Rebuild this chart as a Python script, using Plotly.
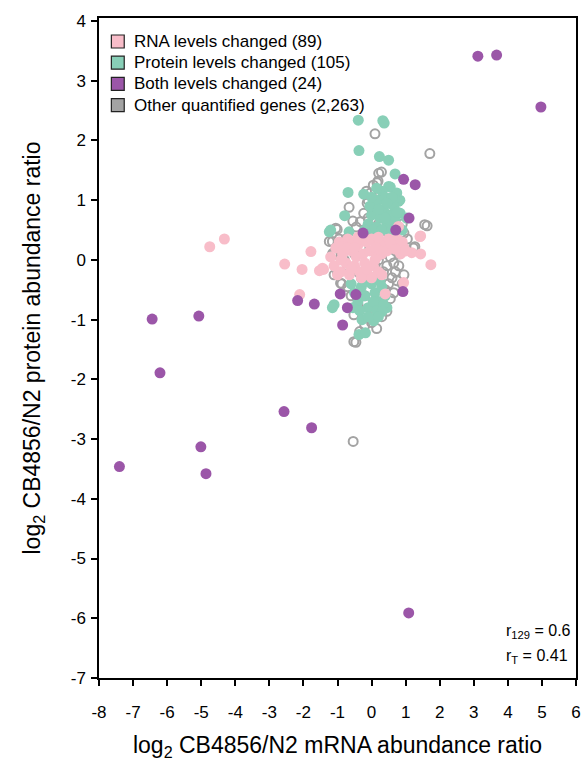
import plotly.graph_objects as go

# ---------------- data (log2 ratios) ----------------
both_x = [3.12, 3.67, 4.97, -6.44, -5.07, -6.21, -5.01, -7.40, -4.86, 1.09, -1.76, -2.57,
          0.94, 1.28, 1.10, -0.25, 0.71, -0.92, -0.46, -2.17, -1.68, -0.71, 0.92, -0.85]
both_y = [3.41, 3.43, 2.56, -0.99, -0.94, -1.89, -3.13, -3.46, -3.58, -5.91, -2.81, -2.54,
          1.35, 1.26, 0.70, 0.45, 0.50, -0.57, -0.58, -0.68, -0.74, -0.80, -0.53, -1.09]

rna_x = [-4.75, -4.32, -2.55, -2.04, -1.78, -1.53, -1.41, -2.11, 1.44, 1.18, 1.44, 1.74, 0.94, 0.40,
         -1.44, 1.42, -1.20, -1.10, -1.05, -0.95, -0.90, -0.85, -0.80, -0.75, -0.70, -0.65, -0.60,
         -0.55, -0.50, -0.45, -0.40, -0.35, -0.30, -0.25, -0.20, -0.15, -0.10, -0.05, 0.00, 0.05,
         0.10, 0.15, 0.20, 0.25, 0.30, 0.35, 0.40, 0.45, 0.50, 0.60, 0.65, 0.75, 0.80, 0.85, 0.90,
         0.95, 1.00, -0.90, -0.60, -0.30, 0.00, -0.40, 0.20, -1.00, -0.15, 0.30, -0.70, 0.10, -0.50,
         0.79, 0.55, 0.70]
rna_y = [0.22, 0.35, -0.07, -0.16, 0.14, -0.18, -0.16, -0.58, 0.40, 0.12, 0.10, -0.08, -0.38, -0.57,
         -0.14, 0.39, 0.05, -0.10, 0.20, 0.30, -0.20, 0.10, 0.25, -0.05, 0.35, -0.25, 0.15,
         0.30, -0.10, 0.05, 0.25, -0.20, 0.35, 0.10, -0.05, 0.30, -0.25, 0.15, 0.35, -0.10,
         0.20, 0.05, -0.20, 0.30, 0.10, 0.15, 0.30, 0.15, 0.35, 0.20, 0.30, 0.35, 0.25, 0.10, 0.30,
         0.20, 0.15, 0.00, -0.15, -0.30, -0.30, 0.38, 0.38, -0.25, -0.15, -0.25, 0.20, 0.00, 0.20,
         0.56, 0.28, 0.18]

prot_x = [-0.39, 0.33, 0.37, -0.37, 0.23, 0.50, 0.69, -0.69, -0.23, -0.79, 0.55, 0.74, 0.83, 0.50,
          0.79, 0.84, 1.03, -1.24, -0.66, -1.20,
          -0.10, 0.00, 0.10, 0.20, 0.30, 0.40, 0.35, 0.25, 0.15, 0.45, 0.55, 0.65, 0.60, 0.70, 0.50,
          0.05, 0.30, -0.05, 0.15, 0.45, 0.80, 0.90, -0.20, 0.00, 0.60, 0.20, 0.40, 0.75,
          -0.60, -0.50, -0.40, -0.30, -0.20, -0.10, 0.00, 0.10, 0.20, 0.30, 0.40, 0.45, -0.55, 0.25,
          -0.15, 0.05, -0.35, 0.15, -0.25, 0.35, -1.10, -1.15, -0.28, 0.06, -0.37, -0.18, 0.31,
          -0.10, 0.20]
prot_y = [2.34, 2.33, 2.29, 1.83, 1.73, 1.67, 1.44, 1.13, 1.10, 0.74, 1.22, 1.12, 1.00, 1.23,
          0.98, 0.78, 0.70, 0.47, 0.47, 0.50,
          0.60, 0.75, 0.90, 1.00, 1.15, 1.05, 0.85, 0.70, 0.55, 0.60, 0.75, 0.90, 1.05, 0.65, 0.50,
          0.50, 0.50, 0.90, 1.20, 0.95, 0.55, 0.50, 0.50, 1.05, 0.50, 0.85, 0.70, 0.80,
          -0.40, -0.55, -0.70, -0.45, -0.60, -0.80, -0.40, -0.55, -0.70, -0.45, -0.60, -0.80, -0.80,
          -0.35, -0.35, -0.70, -0.85, -0.85, -0.35, -0.75, -0.75, -0.80, -1.00, -1.02, -1.25, -1.22,
          -0.86, -0.95, -0.95]

other_x = [0.10, 1.71, 0.29, 0.21, 0.19, 0.16, -0.03, -0.13, -0.23, -0.33, -0.66, -1.05, -1.01,
           -1.24, -1.15, -1.14, -1.15, -1.10, -1.00, -0.91, -0.87, -0.52, -0.52, -0.46, 0.45, 1.56,
           1.63, 1.27, 1.23, -0.54,
           0.00, 0.10, -0.10, 0.20, 0.05, -0.20, 0.30, 0.45, 0.55, 0.65, 0.70, 0.60, 0.75, 0.50,
           0.40, 0.30, 0.20, 0.55, 0.65, 0.80, 0.80, 0.70, 0.60, -0.10, -0.20, -0.30, -0.40, -0.50,
           -0.60, -0.70, -0.80, 0.00, 0.10, 0.20, 0.30, -0.05, 0.15, 0.35, 0.45, 0.25, 0.90, 0.95,
           0.85, 0.95, 1.05, 0.90, -0.45, -0.55, -0.75, -0.85, -0.95, -0.40, -0.60, -0.70, 0.10,
           0.30, 0.00, -0.20, 0.15, -0.35, -0.10, 0.25, 0.05, -0.15, 0.35, 0.45, 0.60, 0.70]
other_y = [2.11, 1.78, 1.47, 1.45, 1.32, 1.29, 1.12, 0.95, 0.78, 0.64, 0.88, 0.53, 0.51,
           0.31, 0.31, 0.11, 0.08, -0.25, -0.22, -0.39, -0.40, -0.92, -1.37, -1.38, -0.86, 0.59,
           0.57, 0.22, 0.20, -3.04,
           0.90, 0.80, 0.70, 0.60, 0.50, 0.40, 0.35, 0.20, 0.05, -0.05, -0.20, -0.30, -0.35, -0.40,
           -0.50, -0.60, -0.70, -0.65, -0.55, -0.10, 0.10, 0.15, 0.25, -0.50, -0.60, -0.30, -0.20,
           0.10, 0.20, -0.10, 0.00, -0.30, -0.10, 0.00, 0.10, 0.20, 0.30, -0.20, -0.10, -0.35,
           -0.40, -0.25, 0.30, 0.45, 0.35, 0.60, 0.55, 0.65, 0.35, 0.20, 0.35, -0.75, -0.60, -0.45,
           -0.85, -0.95, -1.05, -1.10, -1.15, -1.20, 1.00, 1.10, 1.25, 1.15, 0.90, 0.75, 0.55, 0.40]

legend_names = ["RNA levels changed (89)", "Protein levels changed (105)",
                "Both levels changed (24)", "Other quantified genes (2,263)"]
x_ticks = list(range(-8, 7))
y_ticks = list(range(-7, 5))
x_ticktext = [str(v) for v in x_ticks]
y_ticktext = [str(v) for v in y_ticks]

PINK = "#F8BDC9"
TEAL = "#88CFB7"
PURPLE = "#9B56A8"
GREY = "#A3A3A3"
FONT = "Liberation Sans, Arial, sans-serif"

W, H = 588, 761
ML, MR, MT, MB = 99, 7, 18, 83
PW, PH = W - ML - MR, H - MT - MB


def px_to_paper(px, py):
    return (px - ML) / PW, (H - MB - py) / PH


fig = go.Figure()

# data traces (bottom to top)
fig.add_trace(go.Scatter(x=other_x, y=other_y, mode="markers", showlegend=False,
                         name=legend_names[3],
                         marker=dict(symbol="circle-open", size=9, color=GREY,
                                     line=dict(width=2, color=GREY))))
fig.add_trace(go.Scatter(x=prot_x, y=prot_y, mode="markers", showlegend=False,
                         name=legend_names[1],
                         marker=dict(size=11, color=TEAL, line=dict(width=0))))
fig.add_trace(go.Scatter(x=rna_x, y=rna_y, mode="markers", showlegend=False,
                         name=legend_names[0],
                         marker=dict(size=11, color=PINK, line=dict(width=0))))
fig.add_trace(go.Scatter(x=both_x, y=both_y, mode="markers", showlegend=False,
                         name=legend_names[2],
                         marker=dict(size=11, color=PURPLE, line=dict(width=0))))

# legend: square swatches + labels
for i, (name, col) in enumerate(zip(legend_names, [PINK, TEAL, PURPLE, GREY])):
    cy = 41.5 + 21.2 * i
    x0, y0 = px_to_paper(111.5, cy + 6.5)
    x1, y1 = px_to_paper(124.5, cy - 6.5)
    fig.add_shape(type="rect", xref="paper", yref="paper", x0=x0, y0=y0, x1=x1, y1=y1,
                  fillcolor=col, line=dict(color="#222222", width=1.2), layer="above")
    tx, ty = px_to_paper(132, cy)
    fig.add_annotation(x=tx, y=ty, xref="paper", yref="paper", xanchor="left",
                       yanchor="middle", text=name, showarrow=False,
                       font=dict(size=17, color="black", family=FONT))

fig.add_annotation(x=3.88, y=-6.22, xref="x", yref="y", xanchor="left", yanchor="middle",
                   text="r<sub>129</sub> = 0.6", showarrow=False,
                   font=dict(size=16, color="black", family=FONT))
fig.add_annotation(x=3.88, y=-6.64, xref="x", yref="y", xanchor="left", yanchor="middle",
                   text="r<sub>T</sub> = 0.41", showarrow=False,
                   font=dict(size=16, color="black", family=FONT))

axis_common = dict(showgrid=False, zeroline=False, showline=True, linecolor="black",
                   linewidth=1.5, mirror=True, ticks="outside", ticklen=6, tickwidth=1.5,
                   tickcolor="black", tickfont=dict(size=17, color="black", family=FONT))

fig.update_layout(
    width=W, height=H,
    margin=dict(l=ML, r=MR, t=MT, b=MB),
    paper_bgcolor="white", plot_bgcolor="white",
    font=dict(family=FONT, color="black"),
    showlegend=False,
    xaxis=dict(range=[-8, 6], tickvals=x_ticks, ticktext=x_ticktext, ticklabelstandoff=12,
               title=dict(text="log<sub>2</sub> CB4856/N2 mRNA abundance ratio",
                          font=dict(size=23, color="black", family=FONT), standoff=16),
               **axis_common),
    yaxis=dict(range=[-7, 4.05], tickvals=y_ticks, ticktext=y_ticktext, ticklabelstandoff=2,
               title=dict(text="log<sub>2</sub> CB4856/N2 protein abundance ratio",
                          font=dict(size=23, color="black", family=FONT), standoff=24),
               **axis_common),
)

fig.write_html("out.html")
